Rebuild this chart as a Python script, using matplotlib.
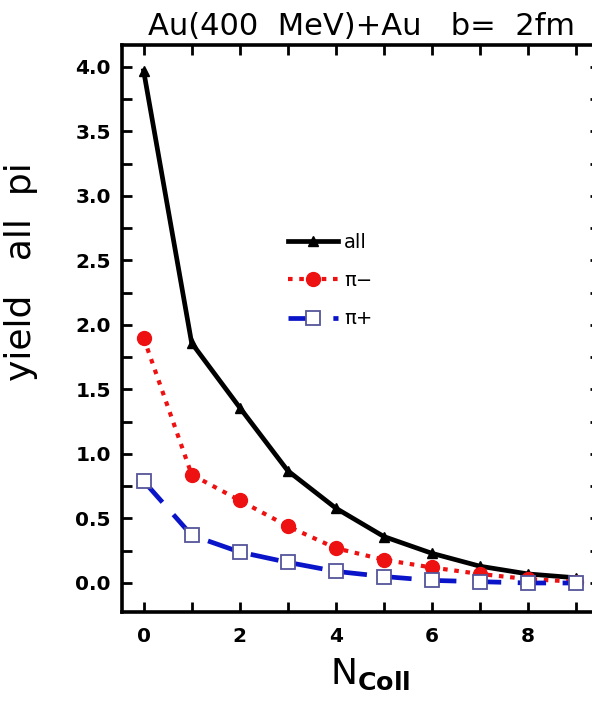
import matplotlib
matplotlib.use("Agg")
import matplotlib.pyplot as plt
from matplotlib.ticker import MultipleLocator

n_coll = [0, 1, 2, 3, 4, 5, 6, 7, 8, 9]
yield_all = [3.97, 1.86, 1.36, 0.87, 0.58, 0.36, 0.23, 0.13, 0.07, 0.04]
yield_pim = [1.90, 0.84, 0.64, 0.44, 0.27, 0.18, 0.12, 0.07, 0.03, 0.01]
yield_pip = [0.79, 0.37, 0.24, 0.16, 0.09, 0.05, 0.02, 0.01, 0.00, 0.00]

title = "Au(400  MeV)+Au   b=  2fm"
ylabel = "yield   all  pi"

fig = plt.figure(figsize=(5.92, 7.02), dpi=100)
ax = fig.add_axes([122/592, 90/702, 478/592, 567/702])

ax.plot(n_coll, yield_all, color='black', lw=3.4, marker='^', ms=7,
        label='all', zorder=3)
ax.plot(n_coll, yield_pim, color='#ee1111', lw=3.0, ls=(0, (1.1, 1.6)),
        marker='o', ms=10, mec='#ee1111', label='π−', zorder=4)
ax.plot(n_coll, yield_pip, color='#0a14c8', lw=3.4, ls=(0, (6, 3.5)),
        marker='s', ms=10, mfc='white', mec='#55559a', mew=1.3,
        label='π+', zorder=5)

ax.set_xlim(-0.45, 9.5)
ax.set_ylim(-0.225, 4.17)

ax.xaxis.set_major_locator(MultipleLocator(2))
ax.xaxis.set_minor_locator(MultipleLocator(1))
ax.yaxis.set_major_locator(MultipleLocator(0.5))
ax.yaxis.set_minor_locator(MultipleLocator(0.25))
ax.yaxis.set_major_formatter(matplotlib.ticker.FormatStrFormatter('%.1f'))

for sp in ax.spines.values():
    sp.set_linewidth(2.6)

ax.tick_params(which='both', direction='in', top=True, right=True,
               length=7, width=2)
ax.tick_params(axis='x', which='major', pad=11, labelsize=14.5)
ax.tick_params(axis='y', which='major', pad=8, labelsize=14.5)
for lab in ax.get_xticklabels() + ax.get_yticklabels():
    lab.set_fontweight('bold')

ax.set_title(title, fontsize=22, pad=7)
ax.set_ylabel(ylabel, fontsize=26)
ax.yaxis.set_label_coords(-0.175, 0.60)
ax.set_xlabel(r'$\mathregular{N}_{\mathbf{Coll}}$', fontsize=26)
ax.xaxis.set_label_coords(0.52, -0.078)

leg = ax.legend(loc='upper left', bbox_to_anchor=(0.31, 0.70), frameon=False,
                fontsize=14, handlelength=2.6, labelspacing=1.0,
                handletextpad=0.3)

fig.savefig('out.png', dpi=100)
